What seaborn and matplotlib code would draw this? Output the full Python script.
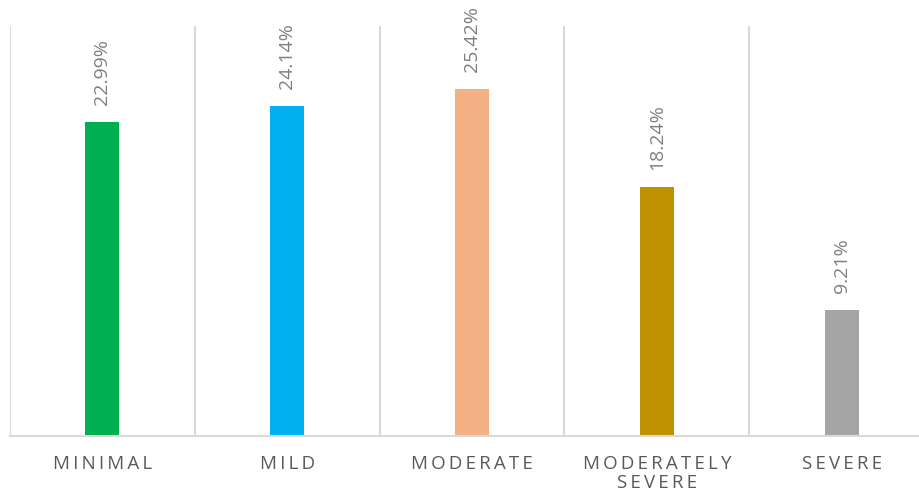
import numpy as np
import matplotlib
matplotlib.use("Agg")
import matplotlib.pyplot as plt
import seaborn as sns

# data
categories = ["MINIMAL", "MILD", "MODERATE", "MODERATELY SEVERE", "SEVERE"]
tick_labels = ["MINIMAL", "MILD", "MODERATE", "MODERATELY\nSEVERE", "SEVERE"]
values = [22.99, 24.14, 25.42, 18.24, 9.21]
colors = ["#00B050", "#00B0F0", "#F4B183", "#BF9000", "#A5A5A5"]

sns.set_theme(style="white")
plt.rcParams["font.family"] = ["Open Sans", "DejaVu Sans"]


def spaced(s):
    # letter spacing (thin space), line by line
    return "\n".join("\u2009".join(line) for line in s.split("\n"))


fig = plt.figure(figsize=(9.2, 4.98), dpi=100)
ax = fig.add_axes([10 / 920, 62 / 498, 924 / 920, 410 / 498])

sns.barplot(x=categories, y=values, hue=categories, palette=colors,
            width=0.185, legend=False, saturation=1, linewidth=0, ax=ax)

for cont, v in zip(ax.containers, values):
    ax.bar_label(cont, labels=[f"{v:.2f}%"], rotation=90, padding=12,
                 fontsize=14, color="#7F7F7F")

ax.set_ylim(0, 30)
ax.set_xlim(-0.5, len(categories) - 0.5)

# category boundaries as vertical gridlines
ax.set_xticks(np.arange(-0.5, len(categories), 1), minor=True)
ax.grid(axis="x", which="minor", color="#D9D9D9", linewidth=1.5)
ax.grid(axis="x", which="major", visible=False)
ax.grid(axis="y", visible=False)

ax.set_xticks(range(len(categories)))
ax.set_xticklabels([spaced(t) for t in tick_labels], fontsize=13.5,
                   color="#595959", linespacing=1.05)
ax.tick_params(axis="x", which="both", length=0, pad=14)
ax.set_yticks([])
ax.set_xlabel("")
ax.set_ylabel("")

for side in ["top", "left", "right"]:
    ax.spines[side].set_visible(False)
ax.spines["bottom"].set_color("#D9D9D9")
ax.spines["bottom"].set_linewidth(1.5)

fig.savefig("out.png", dpi=100)
